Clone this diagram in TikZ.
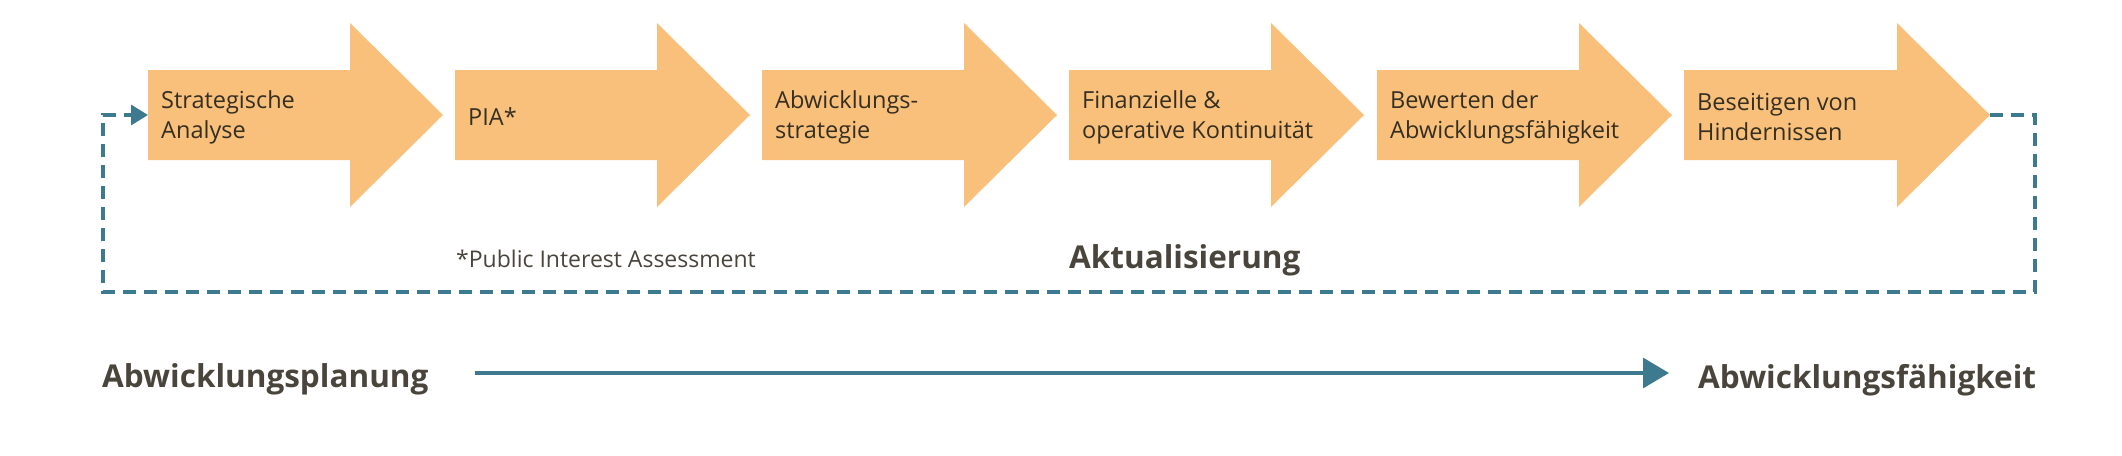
\documentclass[tikz,border=0pt]{standalone}
\usepackage{fontspec}
\setmainfont{Open Sans}
\usetikzlibrary{arrows.meta}
\definecolor{stepfill}{HTML}{F9C07B}
\definecolor{loopteal}{HTML}{3E7A8F}
\definecolor{steptext}{HTML}{352F22}
\definecolor{headtext}{HTML}{4A453C}

\begin{document}
\begin{tikzpicture}[x=1pt,y=-1pt]
    \tikzstyle{steplabel}=[anchor=west, align=left, inner sep=0pt, text=steptext, font=\fontsize{23.5}{30}\selectfont]
    \tikzstyle{headlabel}=[anchor=base west, inner sep=0pt, text=headtext, font=\fontsize{31.5}{38}\selectfont\bfseries]
    \tikzstyle{footlabel}=[anchor=base west, inner sep=0pt, text=headtext, font=\fontsize{23}{30}\selectfont]
    \tikzstyle{updateloop}=[draw=loopteal, line width=3.3pt, dash pattern=on 13pt off 8pt, -{Triangle[length=17pt,width=20pt,fill=loopteal]}]
    \tikzstyle{planline}=[draw=loopteal, line width=3.3pt, -{Triangle[length=26pt,width=30pt,fill=loopteal]}]
    \useasboundingbox (0,0) rectangle (2122,455);

    \foreach \i/\x/\b/\txt in {1/148/202/{Strategische\\Analyse},
                               2/455/202/{PIA*},
                               3/762/202/{Abwicklungs-\\strategie},
                               4/1069/202/{Finanzielle \&\\operative Kontinuität},
                               5/1377/202/{Bewerten der\\Abwicklungsfähigkeit},
                               6/1684/213/{Beseitigen von\\Hindernissen}}{
        \fill[stepfill] (\x,70) -- (\x+\b,70) -- (\x+\b,23) -- (\x+\b+93,115)
                        -- (\x+\b,207) -- (\x+\b,160) -- (\x,160) -- cycle;
        \coordinate (tail\i) at (\x,115);
        \coordinate (tip\i) at (\x+\b+93,115);
        \node[steplabel] (step\i) at (\x+13,117) {\txt};
    }

    \node[footlabel] (pia) at (456,267) {*Public Interest Assessment};
    \node[headlabel] (update) at (1069,268) {Aktualisierung};

    \coordinate (loopR) at (2035,292);
    \coordinate (loopL) at (103,292);
    \draw[updateloop] (tip6) -| (loopR) -- (loopL) |- (tail1);

    \node[headlabel] (plan) at (102,387) {Abwicklungsplanung};
    \node[headlabel] (able) at (1698,388) {Abwicklungsfähigkeit};
    \coordinate (planstart) at ([shift={(46,-14)}]plan.base east);
    \coordinate (planend) at ([shift={(-29,-15)}]able.base west);
    \draw[planline] (planstart) -- (planend);

\end{tikzpicture}
\end{document}
